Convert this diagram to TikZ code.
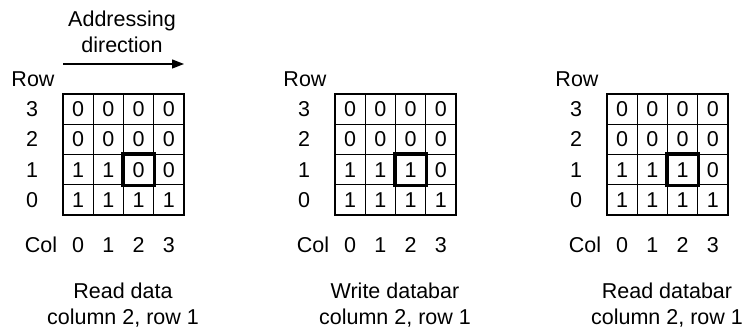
\documentclass[tikz,border=0pt]{standalone}
\usepackage{fontspec}
\setmainfont{Liberation Sans}
\usetikzlibrary{arrows.meta, positioning}

\begin{document}
\begin{tikzpicture}[
    x=1pt, y=-1pt,
    every node/.style={font={\fontsize{21.5}{25.5}\selectfont}},
    cell/.style={rectangle, draw=black, line width=1.2pt, minimum size=30.25pt, inner sep=0pt},
    lbl/.style={inner sep=0pt},
    caption/.style={align=center, inner sep=0pt},
    selbox/.style={draw=black, line width=3.3pt},
    arrow/.style={-{Triangle[length=12pt, width=9pt]}, line width=1.3pt}
]
\useasboundingbox (0,0) rectangle (756,328);

% Addressing direction (first panel only)
\node[caption] (addr) at (122,32) {Addressing\\direction};
\coordinate (arrowtail) at (63,64);
\coordinate (arrowhead) at (184,64);
\draw[arrow] (arrowtail) -- (arrowhead);

% Three panels: read data, write databar, read databar
\foreach \p/\val/\capa in {0/0/Read data, 1/1/Write databar, 2/1/Read databar} {
  \begin{scope}[xshift=272*\p]
    \node[lbl] (rowhead\p) at (33,79) {Row};
    \node[lbl] (colhead\p) at (41,245) {Col};

    % cells, top row is row 3
    \foreach \r/\vals in {3/{0,0,0,0}, 2/{0,0,0,0}, 1/{1,1,\val,0}, 0/{1,1,1,1}} {
      \node[lbl] (rownum\p-\r) at (32,{94+30.25*(3.5-\r)}) {\r};
      \foreach \b [count=\c from 0] in \vals {
        \node[cell] (cell\p-\c-\r) at ({63+30.25*(\c+0.5)},{94+30.25*(3.5-\r)}) {\b};
      }
    }

    % column numbers
    \foreach \c in {0,...,3} {
      \node[lbl] (colnum\p-\c) at ({63+30.25*(\c+0.5)},245) {\c};
    }

    % addressed cell: column 2, row 1
    \draw[selbox] (cell\p-2-1.north west) rectangle (cell\p-2-1.south east);

    \node[caption] (cap\p) at (123,305) {\capa\\column 2, row 1};
  \end{scope}
}

\end{tikzpicture}
\end{document}
